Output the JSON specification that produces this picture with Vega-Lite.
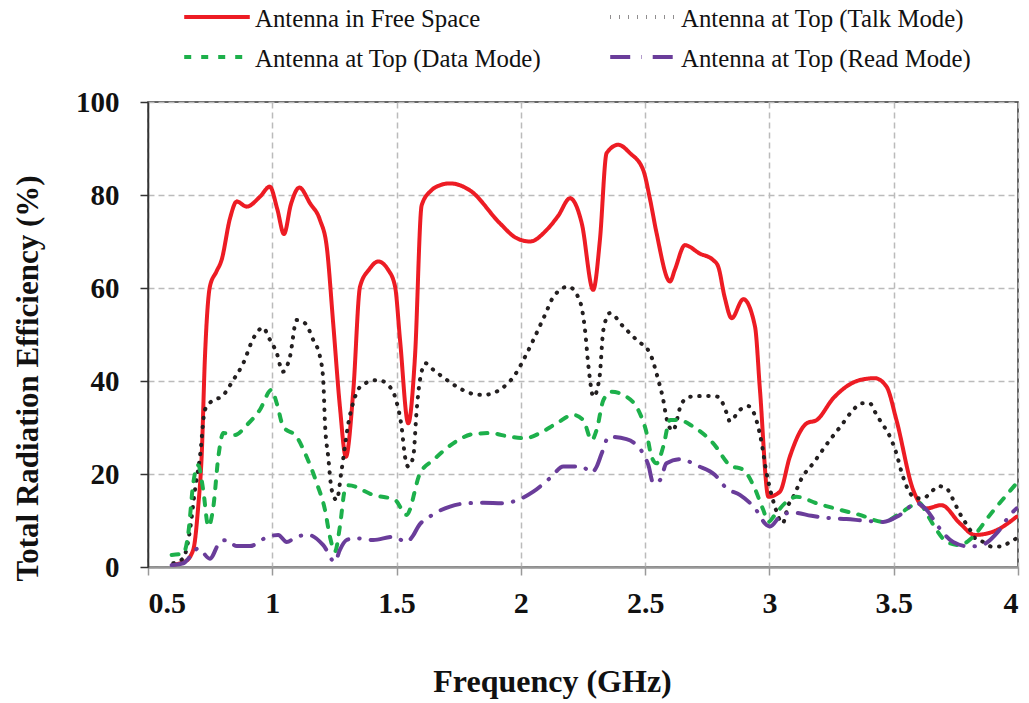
{
  "$schema": "https://vega.github.io/schema/vega-lite/v6.json",
  "width": 870,
  "height": 465,
  "autosize": {"type": "none"},
  "padding": {"left": 148, "top": 102, "right": 11, "bottom": 136},
  "background": "white",
  "config": {
    "view": {"stroke": "#333333", "strokeWidth": 1.5},
    "font": "Liberation Serif"
  },
  "data": {"values": [
    {"s": "Antenna in Free Space", "f": 0.6, "e": 0.5},
    {"s": "Antenna in Free Space", "f": 0.65, "e": 1.2},
    {"s": "Antenna in Free Space", "f": 0.682, "e": 3.7},
    {"s": "Antenna in Free Space", "f": 0.702, "e": 13},
    {"s": "Antenna in Free Space", "f": 0.716, "e": 24},
    {"s": "Antenna in Free Space", "f": 0.729, "e": 45},
    {"s": "Antenna in Free Space", "f": 0.749, "e": 60.3},
    {"s": "Antenna in Free Space", "f": 0.775, "e": 63.5},
    {"s": "Antenna in Free Space", "f": 0.796, "e": 66},
    {"s": "Antenna in Free Space", "f": 0.83, "e": 75},
    {"s": "Antenna in Free Space", "f": 0.857, "e": 78.6},
    {"s": "Antenna in Free Space", "f": 0.897, "e": 77.5},
    {"s": "Antenna in Free Space", "f": 0.95, "e": 79.6},
    {"s": "Antenna in Free Space", "f": 0.99, "e": 81.8},
    {"s": "Antenna in Free Space", "f": 1.02, "e": 77},
    {"s": "Antenna in Free Space", "f": 1.047, "e": 71.6},
    {"s": "Antenna in Free Space", "f": 1.075, "e": 78},
    {"s": "Antenna in Free Space", "f": 1.109, "e": 81.6},
    {"s": "Antenna in Free Space", "f": 1.152, "e": 78.2},
    {"s": "Antenna in Free Space", "f": 1.192, "e": 74.6},
    {"s": "Antenna in Free Space", "f": 1.219, "e": 68.9},
    {"s": "Antenna in Free Space", "f": 1.245, "e": 52.4},
    {"s": "Antenna in Free Space", "f": 1.272, "e": 34.5},
    {"s": "Antenna in Free Space", "f": 1.296, "e": 23.7},
    {"s": "Antenna in Free Space", "f": 1.326, "e": 38},
    {"s": "Antenna in Free Space", "f": 1.353, "e": 60.3},
    {"s": "Antenna in Free Space", "f": 1.39, "e": 64},
    {"s": "Antenna in Free Space", "f": 1.426, "e": 65.7},
    {"s": "Antenna in Free Space", "f": 1.465, "e": 64},
    {"s": "Antenna in Free Space", "f": 1.494, "e": 60.3},
    {"s": "Antenna in Free Space", "f": 1.514, "e": 48.8},
    {"s": "Antenna in Free Space", "f": 1.547, "e": 30.9},
    {"s": "Antenna in Free Space", "f": 1.574, "e": 45.2},
    {"s": "Antenna in Free Space", "f": 1.601, "e": 77.8},
    {"s": "Antenna in Free Space", "f": 1.64, "e": 81},
    {"s": "Antenna in Free Space", "f": 1.675, "e": 82.1},
    {"s": "Antenna in Free Space", "f": 1.715, "e": 82.5},
    {"s": "Antenna in Free Space", "f": 1.795, "e": 81},
    {"s": "Antenna in Free Space", "f": 1.916, "e": 73.9},
    {"s": "Antenna in Free Space", "f": 1.98, "e": 70.8},
    {"s": "Antenna in Free Space", "f": 2.037, "e": 70},
    {"s": "Antenna in Free Space", "f": 2.104, "e": 72.5},
    {"s": "Antenna in Free Space", "f": 2.15, "e": 75.5},
    {"s": "Antenna in Free Space", "f": 2.198, "e": 79.3},
    {"s": "Antenna in Free Space", "f": 2.245, "e": 73.9},
    {"s": "Antenna in Free Space", "f": 2.291, "e": 59.6},
    {"s": "Antenna in Free Space", "f": 2.318, "e": 70.3},
    {"s": "Antenna in Free Space", "f": 2.345, "e": 89},
    {"s": "Antenna in Free Space", "f": 2.392, "e": 90.8},
    {"s": "Antenna in Free Space", "f": 2.439, "e": 89},
    {"s": "Antenna in Free Space", "f": 2.492, "e": 85.4},
    {"s": "Antenna in Free Space", "f": 2.52, "e": 79},
    {"s": "Antenna in Free Space", "f": 2.546, "e": 71.8},
    {"s": "Antenna in Free Space", "f": 2.6, "e": 61.4},
    {"s": "Antenna in Free Space", "f": 2.62, "e": 64},
    {"s": "Antenna in Free Space", "f": 2.66, "e": 69.2},
    {"s": "Antenna in Free Space", "f": 2.72, "e": 67.4},
    {"s": "Antenna in Free Space", "f": 2.774, "e": 66},
    {"s": "Antenna in Free Space", "f": 2.794, "e": 64.6},
    {"s": "Antenna in Free Space", "f": 2.82, "e": 58},
    {"s": "Antenna in Free Space", "f": 2.848, "e": 53.5},
    {"s": "Antenna in Free Space", "f": 2.895, "e": 57.6},
    {"s": "Antenna in Free Space", "f": 2.942, "e": 51.7},
    {"s": "Antenna in Free Space", "f": 2.962, "e": 38},
    {"s": "Antenna in Free Space", "f": 2.996, "e": 15.1},
    {"s": "Antenna in Free Space", "f": 3.042, "e": 16.2},
    {"s": "Antenna in Free Space", "f": 3.082, "e": 23.7},
    {"s": "Antenna in Free Space", "f": 3.15, "e": 30.9},
    {"s": "Antenna in Free Space", "f": 3.19, "e": 31.6},
    {"s": "Antenna in Free Space", "f": 3.257, "e": 36.3},
    {"s": "Antenna in Free Space", "f": 3.364, "e": 40.2},
    {"s": "Antenna in Free Space", "f": 3.424, "e": 40.6},
    {"s": "Antenna in Free Space", "f": 3.471, "e": 38.8},
    {"s": "Antenna in Free Space", "f": 3.511, "e": 31.6},
    {"s": "Antenna in Free Space", "f": 3.578, "e": 16.6},
    {"s": "Antenna in Free Space", "f": 3.632, "e": 12.6},
    {"s": "Antenna in Free Space", "f": 3.692, "e": 13.3},
    {"s": "Antenna in Free Space", "f": 3.766, "e": 9.4},
    {"s": "Antenna in Free Space", "f": 3.827, "e": 6.9},
    {"s": "Antenna in Free Space", "f": 3.9, "e": 7.6},
    {"s": "Antenna in Free Space", "f": 3.994, "e": 10.8},

    {"s": "Antenna at Top (Talk Mode)", "f": 0.602, "e": 0.8},
    {"s": "Antenna at Top (Talk Mode)", "f": 0.642, "e": 1.9},
    {"s": "Antenna at Top (Talk Mode)", "f": 0.669, "e": 8},
    {"s": "Antenna at Top (Talk Mode)", "f": 0.689, "e": 16.6},
    {"s": "Antenna at Top (Talk Mode)", "f": 0.709, "e": 23.7},
    {"s": "Antenna at Top (Talk Mode)", "f": 0.729, "e": 33.8},
    {"s": "Antenna at Top (Talk Mode)", "f": 0.763, "e": 35.9},
    {"s": "Antenna at Top (Talk Mode)", "f": 0.796, "e": 36.6},
    {"s": "Antenna at Top (Talk Mode)", "f": 0.843, "e": 40.2},
    {"s": "Antenna at Top (Talk Mode)", "f": 0.883, "e": 43.8},
    {"s": "Antenna at Top (Talk Mode)", "f": 0.924, "e": 49.2},
    {"s": "Antenna at Top (Talk Mode)", "f": 0.964, "e": 51.5},
    {"s": "Antenna at Top (Talk Mode)", "f": 0.984, "e": 49.5},
    {"s": "Antenna at Top (Talk Mode)", "f": 1.018, "e": 46},
    {"s": "Antenna at Top (Talk Mode)", "f": 1.042, "e": 42},
    {"s": "Antenna at Top (Talk Mode)", "f": 1.071, "e": 45.2},
    {"s": "Antenna at Top (Talk Mode)", "f": 1.098, "e": 53.1},
    {"s": "Antenna at Top (Talk Mode)", "f": 1.132, "e": 52.4},
    {"s": "Antenna at Top (Talk Mode)", "f": 1.165, "e": 48.8},
    {"s": "Antenna at Top (Talk Mode)", "f": 1.192, "e": 45.2},
    {"s": "Antenna at Top (Talk Mode)", "f": 1.205, "e": 40.2},
    {"s": "Antenna at Top (Talk Mode)", "f": 1.212, "e": 30.9},
    {"s": "Antenna at Top (Talk Mode)", "f": 1.225, "e": 23.7},
    {"s": "Antenna at Top (Talk Mode)", "f": 1.239, "e": 16.6},
    {"s": "Antenna at Top (Talk Mode)", "f": 1.259, "e": 14.4},
    {"s": "Antenna at Top (Talk Mode)", "f": 1.279, "e": 20.9},
    {"s": "Antenna at Top (Talk Mode)", "f": 1.306, "e": 30.9},
    {"s": "Antenna at Top (Talk Mode)", "f": 1.333, "e": 36.6},
    {"s": "Antenna at Top (Talk Mode)", "f": 1.36, "e": 39.1},
    {"s": "Antenna at Top (Talk Mode)", "f": 1.426, "e": 40.2},
    {"s": "Antenna at Top (Talk Mode)", "f": 1.467, "e": 39.1},
    {"s": "Antenna at Top (Talk Mode)", "f": 1.5, "e": 35.5},
    {"s": "Antenna at Top (Talk Mode)", "f": 1.52, "e": 30.2},
    {"s": "Antenna at Top (Talk Mode)", "f": 1.534, "e": 23.7},
    {"s": "Antenna at Top (Talk Mode)", "f": 1.547, "e": 21.6},
    {"s": "Antenna at Top (Talk Mode)", "f": 1.567, "e": 23.7},
    {"s": "Antenna at Top (Talk Mode)", "f": 1.581, "e": 33.8},
    {"s": "Antenna at Top (Talk Mode)", "f": 1.594, "e": 40.2},
    {"s": "Antenna at Top (Talk Mode)", "f": 1.617, "e": 43.8},
    {"s": "Antenna at Top (Talk Mode)", "f": 1.648, "e": 42.4},
    {"s": "Antenna at Top (Talk Mode)", "f": 1.675, "e": 41.3},
    {"s": "Antenna at Top (Talk Mode)", "f": 1.742, "e": 38.8},
    {"s": "Antenna at Top (Talk Mode)", "f": 1.809, "e": 37.2},
    {"s": "Antenna at Top (Talk Mode)", "f": 1.849, "e": 37},
    {"s": "Antenna at Top (Talk Mode)", "f": 1.923, "e": 38.4},
    {"s": "Antenna at Top (Talk Mode)", "f": 1.976, "e": 41.3},
    {"s": "Antenna at Top (Talk Mode)", "f": 2.017, "e": 45.2},
    {"s": "Antenna at Top (Talk Mode)", "f": 2.05, "e": 48.8},
    {"s": "Antenna at Top (Talk Mode)", "f": 2.097, "e": 54.2},
    {"s": "Antenna at Top (Talk Mode)", "f": 2.131, "e": 58.1},
    {"s": "Antenna at Top (Talk Mode)", "f": 2.191, "e": 60.3},
    {"s": "Antenna at Top (Talk Mode)", "f": 2.238, "e": 57.1},
    {"s": "Antenna at Top (Talk Mode)", "f": 2.258, "e": 51},
    {"s": "Antenna at Top (Talk Mode)", "f": 2.272, "e": 43.1},
    {"s": "Antenna at Top (Talk Mode)", "f": 2.292, "e": 36.6},
    {"s": "Antenna at Top (Talk Mode)", "f": 2.316, "e": 40.6},
    {"s": "Antenna at Top (Talk Mode)", "f": 2.332, "e": 51},
    {"s": "Antenna at Top (Talk Mode)", "f": 2.358, "e": 54.6},
    {"s": "Antenna at Top (Talk Mode)", "f": 2.412, "e": 51.7},
    {"s": "Antenna at Top (Talk Mode)", "f": 2.466, "e": 48.8},
    {"s": "Antenna at Top (Talk Mode)", "f": 2.519, "e": 46},
    {"s": "Antenna at Top (Talk Mode)", "f": 2.553, "e": 40.2},
    {"s": "Antenna at Top (Talk Mode)", "f": 2.573, "e": 35.9},
    {"s": "Antenna at Top (Talk Mode)", "f": 2.586, "e": 32},
    {"s": "Antenna at Top (Talk Mode)", "f": 2.611, "e": 29.3},
    {"s": "Antenna at Top (Talk Mode)", "f": 2.647, "e": 35.2},
    {"s": "Antenna at Top (Talk Mode)", "f": 2.68, "e": 36.6},
    {"s": "Antenna at Top (Talk Mode)", "f": 2.754, "e": 36.8},
    {"s": "Antenna at Top (Talk Mode)", "f": 2.794, "e": 36.6},
    {"s": "Antenna at Top (Talk Mode)", "f": 2.828, "e": 33.1},
    {"s": "Antenna at Top (Talk Mode)", "f": 2.841, "e": 31.3},
    {"s": "Antenna at Top (Talk Mode)", "f": 2.881, "e": 33.8},
    {"s": "Antenna at Top (Talk Mode)", "f": 2.915, "e": 34.6},
    {"s": "Antenna at Top (Talk Mode)", "f": 2.949, "e": 31.3},
    {"s": "Antenna at Top (Talk Mode)", "f": 2.969, "e": 26.6},
    {"s": "Antenna at Top (Talk Mode)", "f": 2.986, "e": 20.9},
    {"s": "Antenna at Top (Talk Mode)", "f": 3.002, "e": 16.9},
    {"s": "Antenna at Top (Talk Mode)", "f": 3.022, "e": 13},
    {"s": "Antenna at Top (Talk Mode)", "f": 3.053, "e": 9.4},
    {"s": "Antenna at Top (Talk Mode)", "f": 3.076, "e": 13.3},
    {"s": "Antenna at Top (Talk Mode)", "f": 3.096, "e": 15.1},
    {"s": "Antenna at Top (Talk Mode)", "f": 3.13, "e": 19.1},
    {"s": "Antenna at Top (Talk Mode)", "f": 3.176, "e": 22.3},
    {"s": "Antenna at Top (Talk Mode)", "f": 3.243, "e": 27.3},
    {"s": "Antenna at Top (Talk Mode)", "f": 3.29, "e": 30.5},
    {"s": "Antenna at Top (Talk Mode)", "f": 3.337, "e": 33.8},
    {"s": "Antenna at Top (Talk Mode)", "f": 3.371, "e": 35.2},
    {"s": "Antenna at Top (Talk Mode)", "f": 3.404, "e": 35.2},
    {"s": "Antenna at Top (Talk Mode)", "f": 3.424, "e": 33.4},
    {"s": "Antenna at Top (Talk Mode)", "f": 3.444, "e": 31.6},
    {"s": "Antenna at Top (Talk Mode)", "f": 3.485, "e": 28},
    {"s": "Antenna at Top (Talk Mode)", "f": 3.511, "e": 24.4},
    {"s": "Antenna at Top (Talk Mode)", "f": 3.531, "e": 20.5},
    {"s": "Antenna at Top (Talk Mode)", "f": 3.558, "e": 16.6},
    {"s": "Antenna at Top (Talk Mode)", "f": 3.592, "e": 14.8},
    {"s": "Antenna at Top (Talk Mode)", "f": 3.619, "e": 14.8},
    {"s": "Antenna at Top (Talk Mode)", "f": 3.652, "e": 16.2},
    {"s": "Antenna at Top (Talk Mode)", "f": 3.679, "e": 17.4},
    {"s": "Antenna at Top (Talk Mode)", "f": 3.713, "e": 16.9},
    {"s": "Antenna at Top (Talk Mode)", "f": 3.733, "e": 15.1},
    {"s": "Antenna at Top (Talk Mode)", "f": 3.766, "e": 11.5},
    {"s": "Antenna at Top (Talk Mode)", "f": 3.807, "e": 8},
    {"s": "Antenna at Top (Talk Mode)", "f": 3.827, "e": 6.2},
    {"s": "Antenna at Top (Talk Mode)", "f": 3.86, "e": 5.4},
    {"s": "Antenna at Top (Talk Mode)", "f": 3.894, "e": 4.4},
    {"s": "Antenna at Top (Talk Mode)", "f": 3.934, "e": 4.4},
    {"s": "Antenna at Top (Talk Mode)", "f": 3.968, "e": 5.4},
    {"s": "Antenna at Top (Talk Mode)", "f": 3.995, "e": 6.2},

    {"s": "Antenna at Top (Data Mode)", "f": 0.595, "e": 2.6},
    {"s": "Antenna at Top (Data Mode)", "f": 0.642, "e": 2.9},
    {"s": "Antenna at Top (Data Mode)", "f": 0.662, "e": 7.2},
    {"s": "Antenna at Top (Data Mode)", "f": 0.682, "e": 18},
    {"s": "Antenna at Top (Data Mode)", "f": 0.702, "e": 21.9},
    {"s": "Antenna at Top (Data Mode)", "f": 0.722, "e": 16.6},
    {"s": "Antenna at Top (Data Mode)", "f": 0.743, "e": 8.7},
    {"s": "Antenna at Top (Data Mode)", "f": 0.763, "e": 13},
    {"s": "Antenna at Top (Data Mode)", "f": 0.783, "e": 23.7},
    {"s": "Antenna at Top (Data Mode)", "f": 0.803, "e": 28.8},
    {"s": "Antenna at Top (Data Mode)", "f": 0.85, "e": 28.4},
    {"s": "Antenna at Top (Data Mode)", "f": 0.897, "e": 30.5},
    {"s": "Antenna at Top (Data Mode)", "f": 0.95, "e": 33.8},
    {"s": "Antenna at Top (Data Mode)", "f": 0.997, "e": 38.1},
    {"s": "Antenna at Top (Data Mode)", "f": 1.018, "e": 35.2},
    {"s": "Antenna at Top (Data Mode)", "f": 1.044, "e": 30.2},
    {"s": "Antenna at Top (Data Mode)", "f": 1.098, "e": 28},
    {"s": "Antenna at Top (Data Mode)", "f": 1.138, "e": 23.7},
    {"s": "Antenna at Top (Data Mode)", "f": 1.179, "e": 18},
    {"s": "Antenna at Top (Data Mode)", "f": 1.212, "e": 12.3},
    {"s": "Antenna at Top (Data Mode)", "f": 1.232, "e": 6.5},
    {"s": "Antenna at Top (Data Mode)", "f": 1.252, "e": 3.3},
    {"s": "Antenna at Top (Data Mode)", "f": 1.272, "e": 8.7},
    {"s": "Antenna at Top (Data Mode)", "f": 1.292, "e": 16.6},
    {"s": "Antenna at Top (Data Mode)", "f": 1.306, "e": 17.6},
    {"s": "Antenna at Top (Data Mode)", "f": 1.406, "e": 15.5},
    {"s": "Antenna at Top (Data Mode)", "f": 1.494, "e": 14.4},
    {"s": "Antenna at Top (Data Mode)", "f": 1.54, "e": 11.2},
    {"s": "Antenna at Top (Data Mode)", "f": 1.594, "e": 20.1},
    {"s": "Antenna at Top (Data Mode)", "f": 1.648, "e": 23},
    {"s": "Antenna at Top (Data Mode)", "f": 1.728, "e": 26.6},
    {"s": "Antenna at Top (Data Mode)", "f": 1.809, "e": 28.6},
    {"s": "Antenna at Top (Data Mode)", "f": 1.876, "e": 28.8},
    {"s": "Antenna at Top (Data Mode)", "f": 1.956, "e": 28},
    {"s": "Antenna at Top (Data Mode)", "f": 2.017, "e": 27.7},
    {"s": "Antenna at Top (Data Mode)", "f": 2.077, "e": 28.8},
    {"s": "Antenna at Top (Data Mode)", "f": 2.144, "e": 30.9},
    {"s": "Antenna at Top (Data Mode)", "f": 2.211, "e": 32.7},
    {"s": "Antenna at Top (Data Mode)", "f": 2.251, "e": 31.6},
    {"s": "Antenna at Top (Data Mode)", "f": 2.285, "e": 27.3},
    {"s": "Antenna at Top (Data Mode)", "f": 2.305, "e": 29.5},
    {"s": "Antenna at Top (Data Mode)", "f": 2.332, "e": 35.9},
    {"s": "Antenna at Top (Data Mode)", "f": 2.365, "e": 37.7},
    {"s": "Antenna at Top (Data Mode)", "f": 2.425, "e": 36.6},
    {"s": "Antenna at Top (Data Mode)", "f": 2.472, "e": 33.8},
    {"s": "Antenna at Top (Data Mode)", "f": 2.506, "e": 28.8},
    {"s": "Antenna at Top (Data Mode)", "f": 2.526, "e": 23.7},
    {"s": "Antenna at Top (Data Mode)", "f": 2.546, "e": 22.3},
    {"s": "Antenna at Top (Data Mode)", "f": 2.573, "e": 25.9},
    {"s": "Antenna at Top (Data Mode)", "f": 2.6, "e": 31.6},
    {"s": "Antenna at Top (Data Mode)", "f": 2.635, "e": 31.6},
    {"s": "Antenna at Top (Data Mode)", "f": 2.693, "e": 30.2},
    {"s": "Antenna at Top (Data Mode)", "f": 2.774, "e": 26.6},
    {"s": "Antenna at Top (Data Mode)", "f": 2.841, "e": 21.9},
    {"s": "Antenna at Top (Data Mode)", "f": 2.895, "e": 20.9},
    {"s": "Antenna at Top (Data Mode)", "f": 2.935, "e": 17.6},
    {"s": "Antenna at Top (Data Mode)", "f": 2.975, "e": 12.3},
    {"s": "Antenna at Top (Data Mode)", "f": 2.996, "e": 9.7},
    {"s": "Antenna at Top (Data Mode)", "f": 3.022, "e": 11.2},
    {"s": "Antenna at Top (Data Mode)", "f": 3.062, "e": 13.7},
    {"s": "Antenna at Top (Data Mode)", "f": 3.109, "e": 15.1},
    {"s": "Antenna at Top (Data Mode)", "f": 3.19, "e": 13.7},
    {"s": "Antenna at Top (Data Mode)", "f": 3.284, "e": 12.3},
    {"s": "Antenna at Top (Data Mode)", "f": 3.364, "e": 11.2},
    {"s": "Antenna at Top (Data Mode)", "f": 3.458, "e": 9.7},
    {"s": "Antenna at Top (Data Mode)", "f": 3.525, "e": 11.5},
    {"s": "Antenna at Top (Data Mode)", "f": 3.578, "e": 13.3},
    {"s": "Antenna at Top (Data Mode)", "f": 3.605, "e": 13.7},
    {"s": "Antenna at Top (Data Mode)", "f": 3.632, "e": 11.5},
    {"s": "Antenna at Top (Data Mode)", "f": 3.672, "e": 8},
    {"s": "Antenna at Top (Data Mode)", "f": 3.713, "e": 5.4},
    {"s": "Antenna at Top (Data Mode)", "f": 3.766, "e": 4.7},
    {"s": "Antenna at Top (Data Mode)", "f": 3.813, "e": 6.2},
    {"s": "Antenna at Top (Data Mode)", "f": 3.887, "e": 11.2},
    {"s": "Antenna at Top (Data Mode)", "f": 3.954, "e": 15.5},
    {"s": "Antenna at Top (Data Mode)", "f": 3.994, "e": 18},

    {"s": "Antenna at Top (Read Mode)", "f": 0.595, "e": 0.4},
    {"s": "Antenna at Top (Read Mode)", "f": 0.642, "e": 0.8},
    {"s": "Antenna at Top (Read Mode)", "f": 0.669, "e": 2.2},
    {"s": "Antenna at Top (Read Mode)", "f": 0.702, "e": 4},
    {"s": "Antenna at Top (Read Mode)", "f": 0.749, "e": 1.8},
    {"s": "Antenna at Top (Read Mode)", "f": 0.79, "e": 5.4},
    {"s": "Antenna at Top (Read Mode)", "f": 0.817, "e": 5.8},
    {"s": "Antenna at Top (Read Mode)", "f": 0.857, "e": 4.5},
    {"s": "Antenna at Top (Read Mode)", "f": 0.91, "e": 4.5},
    {"s": "Antenna at Top (Read Mode)", "f": 0.971, "e": 6.2},
    {"s": "Antenna at Top (Read Mode)", "f": 1.024, "e": 6.9},
    {"s": "Antenna at Top (Read Mode)", "f": 1.058, "e": 5.4},
    {"s": "Antenna at Top (Read Mode)", "f": 1.098, "e": 6.5},
    {"s": "Antenna at Top (Read Mode)", "f": 1.145, "e": 6.9},
    {"s": "Antenna at Top (Read Mode)", "f": 1.205, "e": 4.7},
    {"s": "Antenna at Top (Read Mode)", "f": 1.252, "e": 1.1},
    {"s": "Antenna at Top (Read Mode)", "f": 1.272, "e": 3.7},
    {"s": "Antenna at Top (Read Mode)", "f": 1.299, "e": 5.8},
    {"s": "Antenna at Top (Read Mode)", "f": 1.333, "e": 6.2},
    {"s": "Antenna at Top (Read Mode)", "f": 1.406, "e": 5.8},
    {"s": "Antenna at Top (Read Mode)", "f": 1.487, "e": 6.5},
    {"s": "Antenna at Top (Read Mode)", "f": 1.54, "e": 5.4},
    {"s": "Antenna at Top (Read Mode)", "f": 1.567, "e": 6.8},
    {"s": "Antenna at Top (Read Mode)", "f": 1.587, "e": 8.7},
    {"s": "Antenna at Top (Read Mode)", "f": 1.644, "e": 11.2},
    {"s": "Antenna at Top (Read Mode)", "f": 1.715, "e": 13},
    {"s": "Antenna at Top (Read Mode)", "f": 1.782, "e": 13.7},
    {"s": "Antenna at Top (Read Mode)", "f": 1.849, "e": 13.8},
    {"s": "Antenna at Top (Read Mode)", "f": 1.926, "e": 13.7},
    {"s": "Antenna at Top (Read Mode)", "f": 1.996, "e": 14.6},
    {"s": "Antenna at Top (Read Mode)", "f": 2.05, "e": 16.2},
    {"s": "Antenna at Top (Read Mode)", "f": 2.117, "e": 19.1},
    {"s": "Antenna at Top (Read Mode)", "f": 2.171, "e": 21.6},
    {"s": "Antenna at Top (Read Mode)", "f": 2.245, "e": 21.6},
    {"s": "Antenna at Top (Read Mode)", "f": 2.285, "e": 20.3},
    {"s": "Antenna at Top (Read Mode)", "f": 2.305, "e": 21.6},
    {"s": "Antenna at Top (Read Mode)", "f": 2.325, "e": 24.4},
    {"s": "Antenna at Top (Read Mode)", "f": 2.354, "e": 28},
    {"s": "Antenna at Top (Read Mode)", "f": 2.425, "e": 27.5},
    {"s": "Antenna at Top (Read Mode)", "f": 2.466, "e": 26.2},
    {"s": "Antenna at Top (Read Mode)", "f": 2.499, "e": 23.7},
    {"s": "Antenna at Top (Read Mode)", "f": 2.513, "e": 21.9},
    {"s": "Antenna at Top (Read Mode)", "f": 2.533, "e": 18},
    {"s": "Antenna at Top (Read Mode)", "f": 2.56, "e": 18.7},
    {"s": "Antenna at Top (Read Mode)", "f": 2.586, "e": 22.3},
    {"s": "Antenna at Top (Read Mode)", "f": 2.64, "e": 23.2},
    {"s": "Antenna at Top (Read Mode)", "f": 2.714, "e": 21.7},
    {"s": "Antenna at Top (Read Mode)", "f": 2.781, "e": 19.8},
    {"s": "Antenna at Top (Read Mode)", "f": 2.828, "e": 16.9},
    {"s": "Antenna at Top (Read Mode)", "f": 2.881, "e": 15.5},
    {"s": "Antenna at Top (Read Mode)", "f": 2.942, "e": 12.6},
    {"s": "Antenna at Top (Read Mode)", "f": 2.989, "e": 9},
    {"s": "Antenna at Top (Read Mode)", "f": 3.002, "e": 8.7},
    {"s": "Antenna at Top (Read Mode)", "f": 3.049, "e": 11.2},
    {"s": "Antenna at Top (Read Mode)", "f": 3.096, "e": 11.7},
    {"s": "Antenna at Top (Read Mode)", "f": 3.169, "e": 11},
    {"s": "Antenna at Top (Read Mode)", "f": 3.243, "e": 10.5},
    {"s": "Antenna at Top (Read Mode)", "f": 3.31, "e": 10.3},
    {"s": "Antenna at Top (Read Mode)", "f": 3.377, "e": 10},
    {"s": "Antenna at Top (Read Mode)", "f": 3.458, "e": 9.7},
    {"s": "Antenna at Top (Read Mode)", "f": 3.525, "e": 11.2},
    {"s": "Antenna at Top (Read Mode)", "f": 3.592, "e": 13.7},
    {"s": "Antenna at Top (Read Mode)", "f": 3.632, "e": 12.3},
    {"s": "Antenna at Top (Read Mode)", "f": 3.679, "e": 8.7},
    {"s": "Antenna at Top (Read Mode)", "f": 3.739, "e": 5.4},
    {"s": "Antenna at Top (Read Mode)", "f": 3.807, "e": 4.4},
    {"s": "Antenna at Top (Read Mode)", "f": 3.854, "e": 4.7},
    {"s": "Antenna at Top (Read Mode)", "f": 3.92, "e": 7.6},
    {"s": "Antenna at Top (Read Mode)", "f": 3.968, "e": 11.2},
    {"s": "Antenna at Top (Read Mode)", "f": 3.994, "e": 12.6}
  ]},
  "mark": {"type": "line", "interpolate": "monotone", "strokeCap": "round", "strokeJoin": "round", "clip": true},
  "encoding": {
    "x": {
      "field": "f", "type": "quantitative",
      "scale": {"domain": [0.5, 4], "nice": false, "zero": false},
      "axis": {
        "values": [0.5, 1, 1.5, 2, 2.5, 3, 3.5, 4],
        "format": "~g",
        "title": "Frequency (GHz)",
        "titleFont": "Liberation Serif", "titleFontSize": 32, "titleFontWeight": "bold", "titleColor": "#111111",
        "titlePadding": 48,
        "titleX": 404,
        "labelFont": "Liberation Serif", "labelFontSize": 30, "labelFontWeight": "bold", "labelColor": "#111111",
        "labelPadding": 13,
        "tickSize": 8, "tickColor": "#999999", "tickWidth": 1.5,
        "domainColor": "#999999", "domainWidth": 2.5,
        "grid": true, "gridColor": "#bbbbbb", "gridDash": [6, 4], "gridWidth": 1.5
      }
    },
    "y": {
      "field": "e", "type": "quantitative",
      "scale": {"domain": [0, 100], "nice": false},
      "axis": {
        "values": [0, 20, 40, 60, 80, 100],
        "title": "Total Radiation Efficiency (%)",
        "titleFont": "Liberation Serif", "titleFontSize": 31, "titleFontWeight": "bold", "titleColor": "#111111",
        "titlePadding": 31,
        "titleY": 276,
        "labelFont": "Liberation Serif", "labelFontSize": 29, "labelFontWeight": "bold", "labelColor": "#111111",
        "labelPadding": 21,
        "tickSize": 8, "tickColor": "#333333", "tickWidth": 1.5,
        "domainColor": "#333333", "domainWidth": 1.5,
        "grid": true, "gridColor": "#bbbbbb", "gridDash": [6, 4], "gridWidth": 1.5
      }
    },
    "color": {
      "field": "s", "type": "nominal",
      "scale": {
        "domain": ["Antenna in Free Space", "Antenna at Top (Data Mode)", "Antenna at Top (Talk Mode)", "Antenna at Top (Read Mode)"],
        "range": ["#ED1C24", "#1DB04B", "#231F20", "#6A3D9A"]
      },
      "legend": {
        "title": null,
        "orient": "none",
        "legendX": 34,
        "legendY": -110,
        "columns": 2,
        "columnPadding": 60,
        "rowPadding": 0,
        "padding": 0,
        "symbolType": "stroke",
        "symbolSize": 4300,
        "symbolStrokeWidth": 4,
        "labelFont": "Liberation Serif",
        "labelFontSize": 24.8,
        "labelColor": "#111111",
        "labelOffset": 3,
        "labelLimit": 400,
        "labelBaseline": "alphabetic",
        "encode": {"symbols": {"update": {"y": {"value": 25}}}}
      }
    },
    "strokeDash": {
      "field": "s", "type": "nominal",
      "scale": {
        "domain": ["Antenna in Free Space", "Antenna at Top (Data Mode)", "Antenna at Top (Talk Mode)", "Antenna at Top (Read Mode)"],
        "range": [[1, 0], [7, 10], [0.5, 8.5], [20, 11, 0.5, 11]]
      }
    },
    "strokeWidth": {
      "field": "s", "type": "nominal",
      "scale": {
        "domain": ["Antenna in Free Space", "Antenna at Top (Data Mode)", "Antenna at Top (Talk Mode)", "Antenna at Top (Read Mode)"],
        "range": [4, 4, 4, 4]
      },
      "legend": null
    },
    "order": {"field": "f", "type": "quantitative"}
  }
}
